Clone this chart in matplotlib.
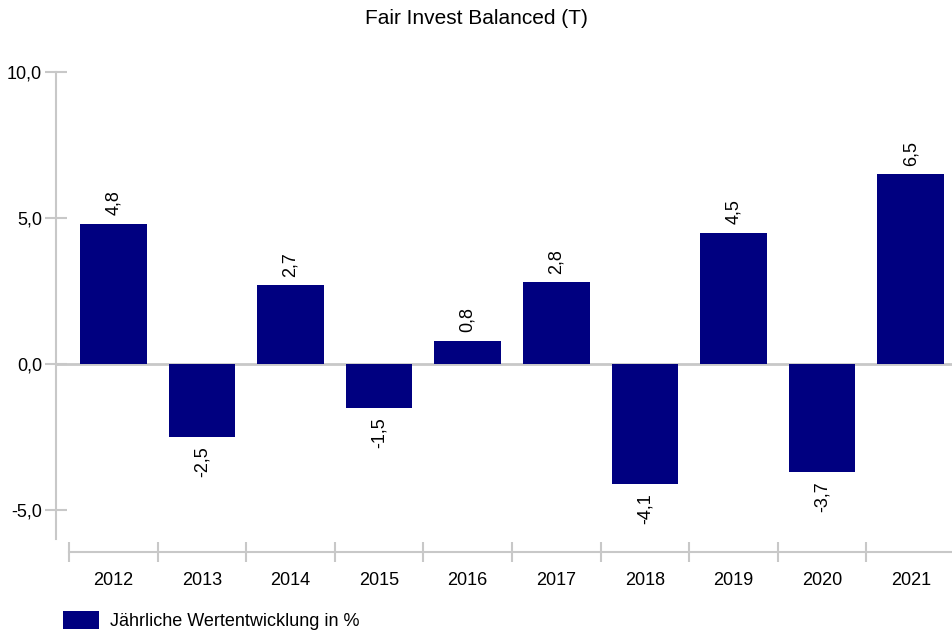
import matplotlib.pyplot as plt
from matplotlib.patches import Patch

plt.rcParams['font.family'] = ['Liberation Sans', 'DejaVu Sans']

years = ['2012', '2013', '2014', '2015', '2016', '2017', '2018', '2019', '2020', '2021']
values = [4.8, -2.5, 2.7, -1.5, 0.8, 2.8, -4.1, 4.5, -3.7, 6.5]
yticks = [-5, 0, 5, 10]
title = 'Fair Invest Balanced (T)'
series_name = 'Jährliche Wertentwicklung in %'

bar_color = '#000080'
axis_color = '#c8c8c8'

W, H = 953, 632
fig = plt.figure(figsize=(W / 100, H / 100), dpi=100)
# axes in pixel coords: left 56, right 955, top 72, bottom 539
ax = fig.add_axes([56 / W, 1 - 539 / H, (955 - 56) / W, (539 - 72) / H])

x = list(range(len(years)))
ax.bar(x, values, width=0.75, color=bar_color, zorder=2)
ax.axhline(0, color=axis_color, lw=2, zorder=1)

ax.set_xlim(-0.5 - 13 / 88.6, len(years) - 0.5)
ax.set_ylim(-6, 10)

# value labels
for xi, v in zip(x, values):
    txt = f'{v:.1f}'.replace('.', ',')
    if v >= 0:
        ax.annotate(txt, (xi, v), xytext=(0, 6), textcoords='offset points',
                    rotation=90, ha='center', va='bottom', fontsize=13)
    else:
        ax.annotate(txt, (xi, v), xytext=(0, -7), textcoords='offset points',
                    rotation=90, ha='center', va='top', fontsize=13)

# spines
for s in ['top', 'right']:
    ax.spines[s].set_visible(False)
ax.spines['left'].set_color(axis_color)
ax.spines['left'].set_linewidth(1.5)
ax.spines['left'].set_bounds(-6, 10)
ax.spines['bottom'].set_color(axis_color)
ax.spines['bottom'].set_linewidth(1.5)
ax.spines['bottom'].set_position(('outward', 9))
ax.spines['bottom'].set_bounds(-0.5, len(years) - 0.5)

ax.set_yticks(yticks)
ax.set_yticklabels([f'{t:.1f}'.replace('.', ',') for t in yticks], fontsize=13)
ax.tick_params(axis='y', direction='inout', length=16, width=1.5, color=axis_color, pad=2)

ax.set_xticks(x)
ax.set_xticklabels(years, fontsize=13)
ax.set_xticks([i - 0.5 for i in range(len(years) + 1)], minor=True)
ax.tick_params(axis='x', which='major', length=0, pad=15)
ax.tick_params(axis='x', which='minor', direction='inout', length=15, width=1.5, color=axis_color)

fig.text(0.5, 1 - 19 / H, title, ha='center', va='center', fontsize=15)

handle = Patch(facecolor=bar_color, edgecolor='none')
fig.legend([handle], [series_name], loc='lower left', bbox_to_anchor=(63 / W, 1 - 630 / H),
           frameon=False, fontsize=13, handlelength=2.0, handleheight=1.15, handletextpad=0.6,
           borderpad=0, borderaxespad=0)

fig.savefig('out.png', dpi=100)
